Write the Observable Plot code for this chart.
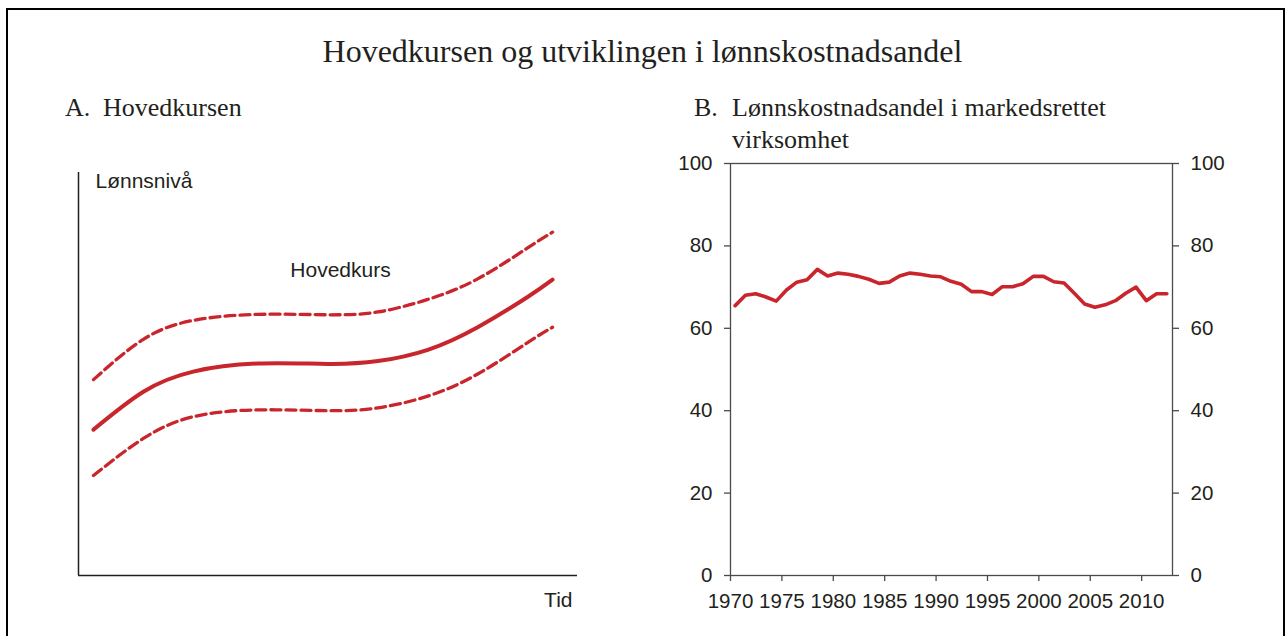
<!DOCTYPE html>
<html>
<head>
<meta charset="utf-8">
<script src="https://cdn.jsdelivr.net/npm/d3@7"></script>
<script src="https://cdn.jsdelivr.net/npm/@observablehq/plot@0.6"></script>
<style>
  html, body { margin: 0; padding: 0; background: #fff; }
  body { width: 1285px; height: 636px; overflow: hidden; position: relative; }
  .frame { position: absolute; left: 6px; top: 8px; width: 1279px; height: 700px; border: 2px solid #000; box-sizing: border-box; }
  .serif { position: absolute; font-family: "Liberation Serif", "Times New Roman", serif; color: #231f20; white-space: nowrap; }
  #title { left: 0; width: 1285px; text-align: center; top: 35px; font-size: 32px; line-height: 32px; }
  .sub { font-size: 26px; line-height: 26px; }
  .plotbox { position: absolute; }
</style>
</head>
<body>
<div class="frame"></div>
<div id="title" class="serif">Hovedkursen og utviklingen i lønnskostnadsandel</div>
<div class="serif sub" style="left:65px; top:95px;">A.</div>
<div class="serif sub" style="left:103px; top:95px;">Hovedkursen</div>
<div class="serif sub" style="left:694px; top:95px;">B.</div>
<div class="serif sub" style="left:732px; top:95px;">Lønnskostnadsandel i markedsrettet</div>
<div class="serif sub" style="left:732px; top:127px;">virksomhet</div>
<div id="panelA" class="plotbox" style="left:0px; top:150px;"></div>
<div id="panelB" class="plotbox" style="left:660px; top:150px;"></div>
<script>
// ---- Panel A: stylised "hovedkurs" (illustrative levels) ----
const timeA = [3, 13, 23, 36, 50, 60, 70, 80, 90, 95];
const hovedkurs = [36.2, 45.6, 50.6, 52.6, 52.5, 53.2, 56.0, 61.6, 69.1, 73.4];
const upperBand = [48.6, 58.6, 63.3, 64.8, 64.7, 65.4, 68.5, 73.6, 81.3, 85.2];
const lowerBand = [24.8, 34.0, 39.4, 41.1, 40.9, 41.6, 44.5, 50.0, 57.8, 61.6];
const labelY = "Lønnsnivå";
const labelX = "Tid";
const labelCurve = "Hovedkurs";

// ---- Panel B: lønnskostnadsandel i markedsrettet virksomhet ----
const years = d3.range(1970, 2013);
const wageShare = [65.5, 68.0, 68.4, 67.6, 66.6, 69.3, 71.2, 71.8, 74.3, 72.7,
                   73.4, 73.1, 72.6, 71.9, 70.9, 71.2, 72.7, 73.4, 73.1, 72.7,
                   72.5, 71.4, 70.7, 68.9, 68.9, 68.2, 70.1, 70.1, 70.8, 72.6,
                   72.6, 71.3, 71.0, 68.5, 65.9, 65.1, 65.7, 66.7, 68.5, 70.0,
                   66.7, 68.4, 68.4];
const yTicksB = [0, 20, 40, 60, 80, 100];
const xTicksB = [1970, 1975, 1980, 1985, 1990, 1995, 2000, 2005, 2010];

const RED = "#c9252c";

const rowsA = timeA.map((t, i) => ({t, mid: hovedkurs[i], up: upperBand[i], lo: lowerBand[i]}));

const plotA = Plot.plot({
  width: 600, height: 470,
  marginLeft: 78, marginRight: 23, marginTop: 22, marginBottom: 45,
  x: {domain: [0, 100], axis: null},
  y: {domain: [0, 100], axis: null},
  style: {fontFamily: "'Liberation Sans', Arial, sans-serif", color: "#231f20", background: "transparent", overflow: "visible"},
  marks: [
    Plot.ruleX([0], {stroke: "#231f20", strokeWidth: 1.5}),
    Plot.ruleY([0], {stroke: "#231f20", strokeWidth: 1.5}),
    Plot.line(rowsA, {x: "t", y: "up", stroke: RED, strokeWidth: 3.3, strokeDasharray: "10,5", curve: "natural"}),
    Plot.line(rowsA, {x: "t", y: "lo", stroke: RED, strokeWidth: 3.3, strokeDasharray: "10,5", curve: "natural"}),
    Plot.line(rowsA, {x: "t", y: "mid", stroke: RED, strokeWidth: 4, curve: "natural"}),
    Plot.text([labelY], {frameAnchor: "top-left", dx: 17, dy: 1, textAnchor: "start", lineAnchor: "top", fontSize: 21, fill: "#231f20"}),
    Plot.text([labelCurve], {x: 52.5, y: 75.7, textAnchor: "middle", fontSize: 21, fill: "#231f20"}),
    Plot.text([labelX], {frameAnchor: "bottom-right", dx: -5, dy: 25, textAnchor: "end", lineAnchor: "middle", fontSize: 21, fill: "#231f20"})
  ]
});
document.getElementById("panelA").appendChild(plotA);

const rowsB = years.map((y, i) => ({year: y, v: wageShare[i]}));

const plotB = Plot.plot({
  width: 600, height: 470,
  marginLeft: 70, marginRight: 88, marginTop: 13, marginBottom: 45,
  x: {domain: [1970, 2013]},
  y: {domain: [0, 100]},
  style: {fontFamily: "'Liberation Sans', Arial, sans-serif", fontSize: "20.5px", color: "#231f20", background: "transparent", overflow: "visible"},
  marks: [
    Plot.frame({stroke: "#4a4a4a", strokeWidth: 1.3}),
    Plot.axisY({anchor: "left", ticks: yTicksB, tickSize: 6, tickPadding: 12, label: null, stroke: "#4a4a4a", strokeWidth: 1.3}),
    Plot.axisY({anchor: "right", ticks: yTicksB, tickSize: 6, tickPadding: 12, label: null, stroke: "#4a4a4a", strokeWidth: 1.3}),
    Plot.axisX({anchor: "bottom", ticks: xTicksB, tickFormat: d => String(d), tickSize: 6, tickPadding: 12, label: null, stroke: "#4a4a4a", strokeWidth: 1.3}),
    Plot.line(rowsB, {x: d => d.year + 0.45, y: "v", stroke: RED, strokeWidth: 3.6, strokeLinejoin: "round"})
  ]
});
document.getElementById("panelB").appendChild(plotB);
</script>
</body>
</html>
